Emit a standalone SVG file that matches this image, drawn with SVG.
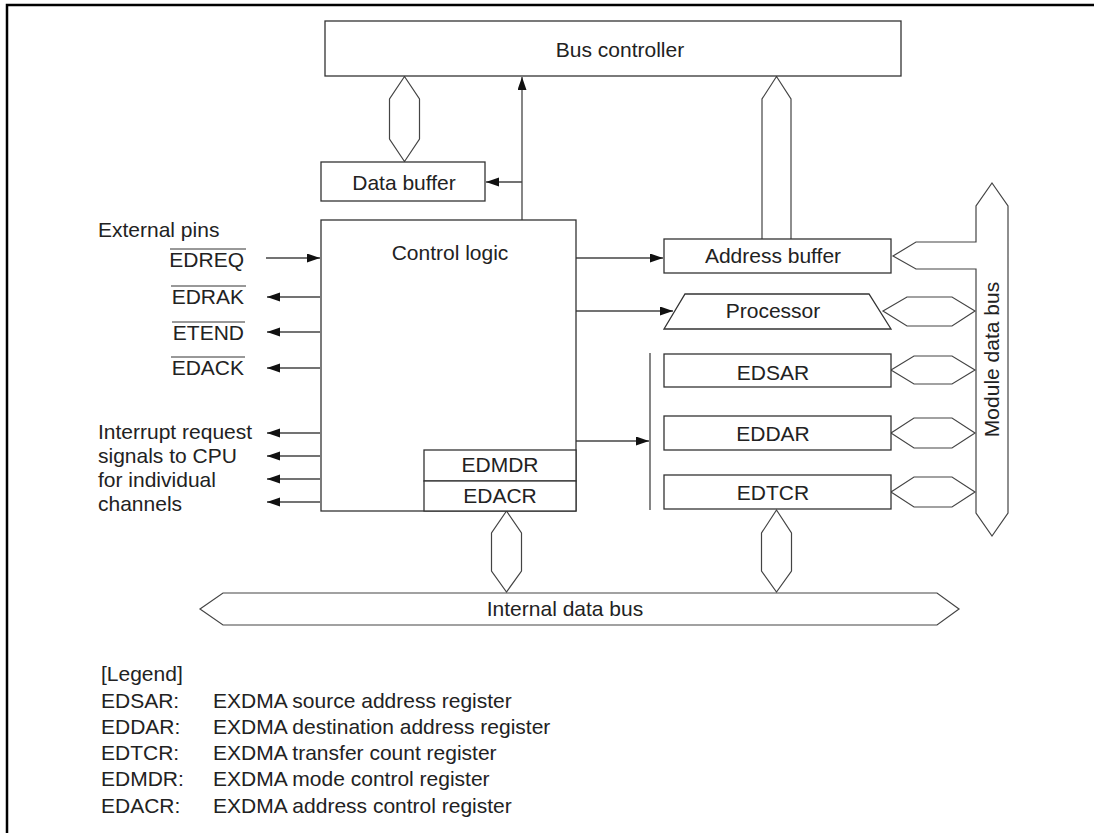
<svg xmlns="http://www.w3.org/2000/svg" width="1094" height="833" viewBox="0 0 1094 833">
<style>
text{font-family:"Liberation Sans",Arial,sans-serif;font-size:21px;fill:#222}
.c{text-anchor:middle}
.r{text-anchor:end}
.box{fill:#fff;stroke:#333;stroke-width:1.3}
.bus{fill:#fff;stroke:#444;stroke-width:1.2}
.ln{fill:none;stroke:#444;stroke-width:1.3}
.ov{stroke:#333;stroke-width:1}
</style>
<defs>
<marker id="ah" markerUnits="userSpaceOnUse" markerWidth="14" markerHeight="10" refX="13" refY="4.5" orient="auto">
<path d="M0,0 L13,4.5 L0,9 Z" fill="#111"/>
</marker>
</defs>
<rect width="1094" height="833" fill="#fff"/>
<path d="M7,833 V5 H1094" fill="none" stroke="#000" stroke-width="2.5"/>

<g id="connectors">
<polygon class="bus" points="404.5,76.5 419.5,99 419.5,139 404.5,161.5 389.5,139 389.5,99"/>
<path class="bus" d="M762,239 V99 L776.5,76.5 L791,99 V239"/>
<polygon class="bus" points="506.5,511 521.5,533 521.5,571 506.5,592 491.5,571 491.5,533"/>
<polygon class="bus" points="776.5,510 791.5,533 791.5,571 776.5,592 761.5,571 761.5,533"/>
<polygon class="bus" points="883,311 907,297 952,297 975,311 952,326 907,326"/>
<polygon class="bus" points="891,370 914,356 952,356 975,370 952,384 914,384"/>
<polygon class="bus" points="891,433 914,418 952,418 975,433 952,448 914,448"/>
<polygon class="bus" points="891,492 914,477 952,477 975,492 952,507 914,507"/>
<path class="ln" d="M522,220 V77" marker-end="url(#ah)"/>
<path class="ln" d="M522,182 H486" marker-end="url(#ah)"/>
<path class="ln" d="M266,258 H320" marker-end="url(#ah)"/>
<path class="ln" d="M320,297 H267" marker-end="url(#ah)"/>
<path class="ln" d="M320,332 H267" marker-end="url(#ah)"/>
<path class="ln" d="M320,368 H267" marker-end="url(#ah)"/>
<path class="ln" d="M320,433 H267" marker-end="url(#ah)"/>
<path class="ln" d="M320,456 H267" marker-end="url(#ah)"/>
<path class="ln" d="M320,479 H267" marker-end="url(#ah)"/>
<path class="ln" d="M320,502 H267" marker-end="url(#ah)"/>
<path class="ln" d="M576,258 H663" marker-end="url(#ah)"/>
<path class="ln" d="M576,311 H673" marker-end="url(#ah)"/>
<path class="ln" d="M576,441 H649" marker-end="url(#ah)"/>
<path class="ln" d="M650,353 V510"/>
</g>

<g id="bus-controller">
<rect class="box" x="325" y="21" width="576" height="55"/>
<text class="c" x="620" y="56.5">Bus controller</text>
</g>
<g id="data-buffer">
<rect class="box" x="321" y="162" width="164" height="39"/>
<text class="c" x="404" y="190">Data buffer</text>
</g>
<g id="control-logic">
<rect class="box" x="321" y="220" width="255" height="291"/>
<text class="c" x="450" y="260">Control logic</text>
</g>
<g id="edmdr">
<rect class="box" x="424" y="450" width="152" height="31"/>
<text class="c" x="500" y="472">EDMDR</text>
</g>
<g id="edacr">
<rect class="box" x="424" y="481" width="152" height="30"/>
<text class="c" x="500" y="503">EDACR</text>
</g>
<g id="address-buffer">
<rect class="box" x="664" y="239" width="227" height="34"/>
<text class="c" x="773" y="263">Address buffer</text>
</g>
<g id="processor">
<polygon class="box" points="664,329 685,294 869,294 891,329"/>
<text class="c" x="773" y="318">Processor</text>
</g>
<g id="edsar">
<rect class="box" x="664" y="354" width="227" height="33"/>
<text class="c" x="773" y="380">EDSAR</text>
</g>
<g id="eddar">
<rect class="box" x="664" y="416" width="227" height="34"/>
<text class="c" x="773" y="441">EDDAR</text>
</g>
<g id="edtcr">
<rect class="box" x="664" y="475" width="227" height="34"/>
<text class="c" x="773" y="500">EDTCR</text>
</g>
<g id="module-data-bus">
<path class="bus" d="M992,183 L1008,206 V513 L992,536 L976,513 V269 H916 L893,256 L916,242 H976 V206 Z"/>
<text class="c" transform="translate(999,359.5) rotate(-90)">Module data bus</text>
</g>
<g id="internal-data-bus">
<polygon class="bus" points="200,609 223,593 937,593 959,609 937,625 223,625"/>
<text class="c" x="565" y="616">Internal data bus</text>
</g>

<g id="external-pins">
<text x="98" y="237">External pins</text>
<text class="r" x="244" y="267">EDREQ</text>
<line class="ov" x1="170" y1="249" x2="246" y2="249"/>
<text class="r" x="244" y="304">EDRAK</text>
<line class="ov" x1="171" y1="286" x2="246" y2="286"/>
<text class="r" x="244" y="340">ETEND</text>
<line class="ov" x1="172" y1="322" x2="245" y2="322"/>
<text class="r" x="244" y="375">EDACK</text>
<line class="ov" x1="171" y1="357" x2="245" y2="357"/>
</g>
<g id="interrupt-label">
<text x="98" y="439">Interrupt request</text>
<text x="98" y="463">signals to CPU</text>
<text x="98" y="487">for individual</text>
<text x="98" y="511">channels</text>
</g>
<g id="legend">
<text x="101" y="681">[Legend]</text>
<text x="101" y="707.5">EDSAR:</text>
<text x="213" y="707.5">EXDMA source address register</text>
<text x="101" y="734">EDDAR:</text>
<text x="213" y="734">EXDMA destination address register</text>
<text x="101" y="760">EDTCR:</text>
<text x="213" y="760">EXDMA transfer count register</text>
<text x="101" y="786.3">EDMDR:</text>
<text x="213" y="786.3">EXDMA mode control register</text>
<text x="101" y="812.6">EDACR:</text>
<text x="213" y="812.6">EXDMA address control register</text>
</g>
</svg>
